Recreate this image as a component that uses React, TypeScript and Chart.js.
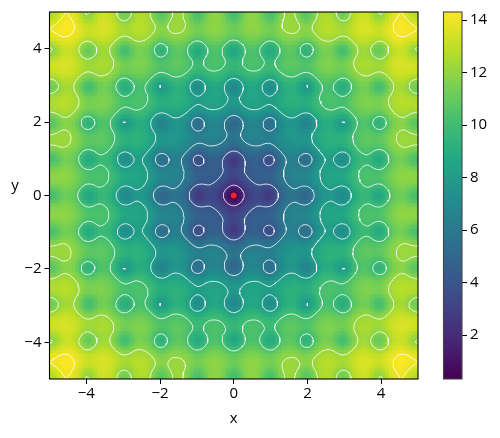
import React, { useEffect, useRef } from "react";
import { Chart, registerables } from "chart.js";

Chart.register(...registerables);

const FONT = "'Open Sans'";
const FONT_SIZE = 15;

const axisTicks = [-4, -2, 0, 2, 4];
const colorbarTicks = [2, 4, 6, 8, 10, 12, 14];
const contourLevels = [2, 4, 6, 8, 10, 12, 14];
const valueMin = 0.325;
const valueMax = 14.31;
const gridStep = 0.25;
const gridHalfCount = 20;
const optimum = [{ x: 0, y: 0 }];

const viridis = [
  "#440154", "#482475", "#414487", "#355f8d", "#2a788e", "#21908d",
  "#22a884", "#42be71", "#7ad151", "#bddf26", "#fde725",
];

// Readings for one quadrant (x, y >= 0) at 0.25 spacing; row r holds columns r..20.
const quadrantRows = [
  [0.3, 1.76, 3.08, 3.08, 2.64, 4.31, 5.54, 5.45, 4.93, 6.52, 7.67, 7.51, 6.92, 8.44, 9.53, 9.30, 8.64, 10.10, 11.13, 10.85, 10.14],
  [2.69, 3.63, 3.83, 3.78, 5.00, 5.98, 6.14, 6.03, 7.20, 8.09, 8.18, 8.00, 9.10, 9.93, 9.96, 9.72, 10.76, 11.54, 11.51, 11.22],
  [4.25, 4.50, 4.64, 5.58, 6.36, 6.65, 6.77, 7.67, 8.40, 8.64, 8.71, 9.55, 10.22, 10.40, 10.41, 11.19, 11.81, 11.93, 11.89],
  [4.50, 4.31, 5.44, 6.33, 6.44, 6.28, 7.42, 8.28, 8.35, 8.15, 9.24, 10.05, 10.07, 9.82, 10.85, 11.62, 11.59, 11.29],
  [3.62, 5.12, 6.22, 6.03, 5.42, 6.95, 8.05, 7.85, 7.21, 8.70, 9.76, 9.52, 8.84, 10.28, 11.30, 11.00, 10.27],
  [6.14, 6.94, 6.96, 6.74, 7.82, 8.64, 8.67, 8.44, 9.49, 10.29, 10.28, 10.01, 11.03, 11.78, 11.73, 11.42],
  [7.53, 7.67, 7.67, 8.47, 9.11, 9.27, 9.27, 10.05, 10.68, 10.81, 10.79, 11.54, 12.12, 12.22, 12.16],
  [7.62, 7.33, 8.35, 9.12, 9.10, 8.83, 9.85, 10.61, 10.58, 10.28, 11.28, 12.01, 11.94, 11.61],
  [6.59, 8.00, 9.00, 8.70, 7.99, 9.41, 10.41, 10.10, 9.37, 10.78, 11.75, 11.42, 10.66],
  [8.96, 9.68, 9.62, 9.30, 10.28, 11.00, 10.94, 10.62, 11.59, 12.29, 12.21, 11.86],
  [10.22, 10.29, 10.20, 10.91, 11.46, 11.54, 11.45, 12.15, 12.69, 12.75, 12.65],
  [10.18, 9.82, 10.76, 11.45, 11.36, 11.00, 11.94, 12.62, 12.52, 12.14],
  [9.02, 10.37, 11.30, 10.93, 10.14, 11.49, 12.41, 12.03, 11.23],
  [11.28, 11.93, 11.80, 11.42, 12.33, 12.99, 12.86, 12.46],
  [12.42, 12.43, 12.29, 12.93, 13.42, 13.43, 13.28],
  [12.27, 11.86, 12.74, 13.38, 13.22, 12.81],
  [11.01, 12.31, 13.18, 12.76, 11.91],
  [13.17, 13.78, 13.60, 13.16],
  [14.22, 14.18, 13.99],
  [13.98, 13.53],
  [12.64],
];

type Pt = { x: number; y: number };

const size = gridHalfCount * 2 + 1;
const rasterCells = 100;
const rasterZoom = 2;
const traceDivisions = 4;

function cellValue(ix: number, iy: number): number {
  const a = Math.abs(ix - gridHalfCount);
  const b = Math.abs(iy - gridHalfCount);
  return a <= b ? quadrantRows[a][b - a] : quadrantRows[b][a - b];
}

const cells = Array.from({ length: size * size }, (_, k) => {
  const ix = k % size;
  const iy = Math.floor(k / size);
  return {
    x: (ix - gridHalfCount) * gridStep,
    y: (iy - gridHalfCount) * gridStep,
    v: cellValue(ix, iy),
  };
});

// Windowed-sinc reconstruction of the table, used only for shading and iso-line tracing.
function kernel(t: number): number {
  const a = Math.abs(t);
  if (a < 1e-9) return 1;
  if (a >= 3) return 0;
  const p = Math.PI * t;
  return (3 * Math.sin(p) * Math.sin(p / 3)) / (p * p);
}

function reflect(i: number): number {
  const m = size - 1;
  if (i < 0) return -i;
  if (i > m) return 2 * m - i;
  return i;
}

function fieldAt(x: number, y: number): number {
  const gx = x / gridStep + gridHalfCount;
  const gy = y / gridStep + gridHalfCount;
  const x0 = Math.floor(gx);
  const y0 = Math.floor(gy);
  let sum = 0;
  let weight = 0;
  for (let j = y0 - 2; j <= y0 + 3; j++) {
    const wy = kernel(gy - j);
    if (wy === 0) continue;
    for (let i = x0 - 2; i <= x0 + 3; i++) {
      const w = wy * kernel(gx - i);
      if (w === 0) continue;
      sum += w * cellValue(reflect(i), reflect(j));
      weight += w;
    }
  }
  return sum / weight;
}

function hexRgb(h: string) {
  return [1, 3, 5].map((i) => parseInt(h.slice(i, i + 2), 16));
}

function colorOf(v: number) {
  const t = Math.min(1, Math.max(0, (v - valueMin) / (valueMax - valueMin))) * (viridis.length - 1);
  const i = Math.min(viridis.length - 2, Math.floor(t));
  const a = hexRgb(viridis[i]);
  const b = hexRgb(viridis[i + 1]);
  return a.map((c, n) => Math.round(c + (b[n] - c) * (t - i)));
}

const traceCount = (size - 1) * traceDivisions + 1;
const traceStep = gridStep / traceDivisions;
const traceOrigin = -gridHalfCount * gridStep;
const traceField: number[] = [];
for (let iy = 0; iy < traceCount; iy++) {
  for (let ix = 0; ix < traceCount; ix++) {
    traceField.push(fieldAt(traceOrigin + ix * traceStep, traceOrigin + iy * traceStep));
  }
}
const fieldValue = (ix: number, iy: number) => traceField[iy * traceCount + ix];

function traceLevel(level: number): Pt[] {
  const nodes = new Map<string, Pt>();
  const links = new Map<string, string[]>();
  const hKey = (ix: number, iy: number) => `h${ix}_${iy}`;
  const vKey = (ix: number, iy: number) => `v${ix}_${iy}`;
  const place = (key: string, ix0: number, iy0: number, ix1: number, iy1: number) => {
    if (nodes.has(key)) return;
    const a = fieldValue(ix0, iy0);
    const b = fieldValue(ix1, iy1);
    const t = (level - a) / (b - a);
    nodes.set(key, {
      x: traceOrigin + (ix0 + (ix1 - ix0) * t) * traceStep,
      y: traceOrigin + (iy0 + (iy1 - iy0) * t) * traceStep,
    });
  };
  const link = (a: string, b: string) => {
    if (!links.has(a)) links.set(a, []);
    if (!links.has(b)) links.set(b, []);
    links.get(a)!.push(b);
    links.get(b)!.push(a);
  };
  for (let iy = 0; iy < traceCount - 1; iy++) {
    for (let ix = 0; ix < traceCount - 1; ix++) {
      const v00 = fieldValue(ix, iy);
      const v10 = fieldValue(ix + 1, iy);
      const v11 = fieldValue(ix + 1, iy + 1);
      const v01 = fieldValue(ix, iy + 1);
      const up = (v: number) => v >= level;
      const crossings: string[] = [];
      if (up(v00) !== up(v10)) { const k = hKey(ix, iy); place(k, ix, iy, ix + 1, iy); crossings.push(k); }
      if (up(v10) !== up(v11)) { const k = vKey(ix + 1, iy); place(k, ix + 1, iy, ix + 1, iy + 1); crossings.push(k); }
      if (up(v01) !== up(v11)) { const k = hKey(ix, iy + 1); place(k, ix, iy + 1, ix + 1, iy + 1); crossings.push(k); }
      if (up(v00) !== up(v01)) { const k = vKey(ix, iy); place(k, ix, iy, ix, iy + 1); crossings.push(k); }
      if (crossings.length === 2) link(crossings[0], crossings[1]);
      else if (crossings.length === 4) {
        const centreUp = up((v00 + v10 + v11 + v01) / 4);
        if (centreUp === up(v00)) { link(crossings[0], crossings[1]); link(crossings[2], crossings[3]); }
        else { link(crossings[0], crossings[3]); link(crossings[1], crossings[2]); }
      }
    }
  }
  const seen = new Set<string>();
  const out: Pt[] = [];
  const walk = (start: string) => {
    let cur: string | undefined = start;
    let first = true;
    while (cur && !seen.has(cur)) {
      seen.add(cur);
      out.push(nodes.get(cur)!);
      const next: string | undefined = links.get(cur)!.find((n) => !seen.has(n));
      if (!next && !first && links.get(cur)!.includes(start)) out.push(nodes.get(start)!);
      cur = next;
      first = false;
    }
    out.push({ x: NaN, y: NaN });
  };
  links.forEach((l, k) => { if (l.length === 1 && !seen.has(k)) walk(k); });
  links.forEach((_, k) => { if (!seen.has(k)) walk(k); });
  return out;
}

const heatPlugin = {
  id: "heat",
  beforeDatasetsDraw(chart: any) {
    const off = document.createElement("canvas");
    off.width = rasterCells;
    off.height = rasterCells;
    const c = off.getContext("2d")!;
    const img = c.createImageData(rasterCells, rasterCells);
    for (let row = 0; row < rasterCells; row++) {
      const y = 5 - (10 * row) / (rasterCells - 1);
      for (let col = 0; col < rasterCells; col++) {
        const x = -5 + (10 * col) / (rasterCells - 1);
        const rgb = colorOf(fieldAt(x, y));
        const o = (row * rasterCells + col) * 4;
        img.data[o] = rgb[0];
        img.data[o + 1] = rgb[1];
        img.data[o + 2] = rgb[2];
        img.data[o + 3] = 255;
      }
    }
    c.putImageData(img, 0, 0);
    const big = document.createElement("canvas");
    big.width = rasterCells * rasterZoom;
    big.height = rasterCells * rasterZoom;
    const bc = big.getContext("2d")!;
    bc.imageSmoothingEnabled = false;
    bc.drawImage(off, 0, 0, big.width, big.height);
    const { x, y } = chart.scales;
    const left = x.getPixelForValue(-5);
    const right = x.getPixelForValue(5);
    const top = y.getPixelForValue(5);
    const bottom = y.getPixelForValue(-5);
    const ctx = chart.ctx;
    ctx.save();
    ctx.imageSmoothingEnabled = true;
    ctx.imageSmoothingQuality = "low";
    ctx.drawImage(big, left, top, right - left, bottom - top);
    ctx.restore();
  },
  afterDraw(chart: any) {
    const { left, top, width, height } = chart.chartArea;
    const ctx = chart.ctx;
    ctx.save();
    ctx.strokeStyle = "#000";
    ctx.lineWidth = 1.1;
    ctx.strokeRect(left, top, width, height);
    ctx.fillStyle = "#000";
    ctx.font = `${FONT_SIZE}px ${FONT}`;
    ctx.textAlign = "center";
    ctx.textBaseline = "middle";
    ctx.fillText("y", 15, 186);
    ctx.restore();
  },
};

const framePlugin = {
  id: "frame",
  afterDraw(chart: any) {
    const { left, top, width, height } = chart.chartArea;
    const ctx = chart.ctx;
    ctx.save();
    ctx.strokeStyle = "#444";
    ctx.lineWidth = 1.1;
    ctx.strokeRect(left, top, width, height);
    ctx.restore();
  },
};

const fmt = (v: number | string) => String(v).replace("-", "\u2212");

export default function App() {
  const mainRef = useRef<HTMLCanvasElement>(null);
  const barRef = useRef<HTMLCanvasElement>(null);

  useEffect(() => {
    const tickFont = { family: FONT, size: FONT_SIZE };
    const main = new Chart(mainRef.current!, {
      type: "scatter",
      data: {
        datasets: [
          { label: "cells", data: cells, pointRadius: 0, order: 20 } as any,
          ...contourLevels.map((level, n) => ({
            label: `level ${level}`,
            data: traceLevel(level),
            showLine: true,
            spanGaps: false,
            tension: 0,
            borderColor: "#ffffff",
            borderWidth: 0.8,
            pointRadius: 0,
            order: 10 - n,
          })),
          {
            label: "optimum",
            data: optimum,
            pointRadius: 3,
            pointBackgroundColor: "#e3262b",
            pointBorderWidth: 0,
            order: 0,
          },
        ],
      },
      options: {
        animation: false,
        responsive: false,
        events: [],
        layout: { padding: { left: 0, right: 12, top: 9, bottom: 0 } },
        plugins: { legend: { display: false }, tooltip: { enabled: false } },
        scales: {
          x: {
            type: "linear",
            min: -5,
            max: 5,
            afterBuildTicks: (s: any) => { s.ticks = axisTicks.map((value) => ({ value })); },
            afterFit: (s: any) => { s.height = 59; },
            grid: { drawOnChartArea: false, drawTicks: true, tickLength: 5, tickColor: "#000", tickWidth: 1 },
            border: { display: false },
            ticks: { font: tickFont, color: "#000", maxRotation: 0, padding: 1, callback: (v: any) => fmt(v) },
            title: { display: true, text: "x", font: tickFont, color: "#000", padding: { top: 0, bottom: 10 } },
          },
          y: {
            type: "linear",
            min: -5,
            max: 5,
            afterBuildTicks: (s: any) => { s.ticks = axisTicks.map((value) => ({ value })); },
            afterFit: (s: any) => { s.width = 49.5; },
            grid: { drawOnChartArea: false, drawTicks: true, tickLength: 5, tickColor: "#000", tickWidth: 1 },
            border: { display: false },
            ticks: { font: tickFont, color: "#000", padding: 3, callback: (v: any) => fmt(v) },
          },
        },
      } as any,
      plugins: [heatPlugin],
    });

    const bar = new Chart(barRef.current!, {
      type: "bar",
      data: {
        labels: ["value"],
        datasets: [
          {
            label: "value",
            data: [[valueMin, valueMax]],
            barPercentage: 1,
            categoryPercentage: 1,
            borderWidth: 0,
            backgroundColor: (c: any) => {
              const a = c.chart.chartArea;
              if (!a) return viridis[5];
              const g = c.chart.ctx.createLinearGradient(0, a.bottom, 0, a.top);
              viridis.forEach((col, i) => g.addColorStop(i / (viridis.length - 1), col));
              return g;
            },
          } as any,
        ],
      },
      options: {
        animation: false,
        responsive: false,
        events: [],
        layout: { padding: { left: 13.5, right: 0, top: 9, bottom: 59 } },
        plugins: { legend: { display: false }, tooltip: { enabled: false } },
        scales: {
          x: { display: false },
          y: {
            position: "right",
            min: valueMin,
            max: valueMax,
            afterBuildTicks: (s: any) => { s.ticks = colorbarTicks.map((value) => ({ value })); },
            afterFit: (s: any) => { s.width = 38; },
            grid: { drawOnChartArea: false, drawTicks: true, tickLength: 5, tickColor: "#000", tickWidth: 1 },
            border: { display: false },
            ticks: { font: tickFont, color: "#000", padding: 3 },
          },
        },
      } as any,
      plugins: [framePlugin],
    });

    return () => {
      main.destroy();
      bar.destroy();
    };
  }, []);

  return (
    <div style={{ position: "fixed", left: 0, top: 0, width: 500, height: 438, background: "#fff" }}>
      <canvas ref={mainRef} width={430} height={438} style={{ position: "absolute", left: 0, top: 0 }} />
      <canvas ref={barRef} width={70} height={438} style={{ position: "absolute", left: 430, top: 0 }} />
    </div>
  );
}
